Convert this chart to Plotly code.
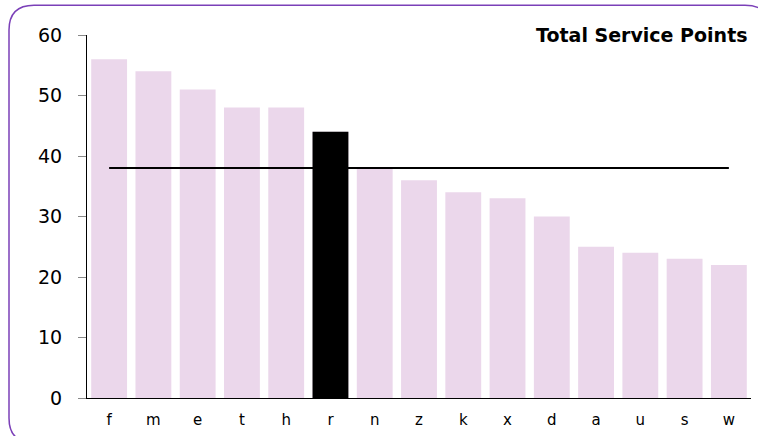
import plotly.graph_objects as go

categories = ["f", "m", "e", "t", "h", "r", "n", "z", "k", "x", "d", "a", "u", "s", "w"]
values = [56, 54, 51, 48, 48, 44, 38, 36, 34, 33, 30, 25, 24, 23, 22]
highlight = "r"
average = 38
title_text = "Total Service Points"

pink = "#EBD7EB"
hl_index = categories.index(highlight)
bar_colors = [pink for c in categories]

fig = go.Figure()
fig.add_trace(go.Bar(x=categories, y=values, marker_color=bar_colors,
                     marker_line_width=0, width=0.81, showlegend=False,
                     xaxis="x", yaxis="y"))
fig.add_trace(go.Scatter(x=[categories[0], categories[-1]], y=[average, average],
                         mode="lines", line=dict(color="black", width=2),
                         showlegend=False, xaxis="x", yaxis="y"))
fig.add_trace(go.Bar(x=[highlight], y=[values[hl_index]], marker_color="black",
                     marker_line_width=0, width=0.81, showlegend=False,
                     xaxis="x2", yaxis="y2"))

W, H = 758, 436
L, R, T, B = 87, 7, 35, 36
pw, ph = W - L - R, H - T - B

def px(x):
    return (x - L) / pw

def py(y):
    return (H - B - y) / ph

x0, x1, y0, y1, rad = 9, 770, 5, 445, 25
rx, ry = rad / pw, rad / ph
path = (f"M {px(x0)},{py(y0)-ry} "
        f"Q {px(x0)},{py(y0)} {px(x0)+rx},{py(y0)} "
        f"L {px(x1)-rx},{py(y0)} "
        f"Q {px(x1)},{py(y0)} {px(x1)},{py(y0)-ry} "
        f"L {px(x1)},{py(y1)+ry} "
        f"Q {px(x1)},{py(y1)} {px(x1)-rx},{py(y1)} "
        f"L {px(x0)+rx},{py(y1)} "
        f"Q {px(x0)},{py(y1)} {px(x0)},{py(y1)+ry} Z")
fig.add_shape(type="path", path=path, xref="paper", yref="paper",
              line=dict(color="#7B40B8", width=1.5), layer="above")

xcommon = dict(type="category", categoryorder="array", categoryarray=categories,
               range=[-0.5, len(categories) - 0.5])
fig.update_layout(
    width=W, height=H,
    margin=dict(l=L, r=R, t=T, b=B),
    paper_bgcolor="white", plot_bgcolor="white",
    font=dict(family="DejaVu Sans", color="black"),
    barmode="overlay",
    xaxis=dict(**xcommon, showline=True, linecolor="black", linewidth=1,
               ticks="", showgrid=False, tickfont=dict(size=15),
               ticklabelstandoff=8),
    yaxis=dict(range=[0, 60], dtick=10, showline=True, linecolor="black",
               linewidth=1, ticks="outside", ticklen=8, tickcolor="#888888",
               showgrid=False, zeroline=False, tickfont=dict(size=19),
               ticklabelstandoff=12),
    xaxis2=dict(**xcommon, overlaying="x", visible=False),
    yaxis2=dict(range=[0, 60], overlaying="y", visible=False),
    annotations=[dict(text="<b>" + title_text + "</b>", xref="paper", yref="paper",
                      x=px(750), y=py(35), xanchor="right", yanchor="middle",
                      showarrow=False, font=dict(size=19, color="black"))],
)

fig.write_html("out.html", config={"displayModeBar": False},
               post_script="document.body.style.margin='0';document.body.style.overflow='hidden';")
